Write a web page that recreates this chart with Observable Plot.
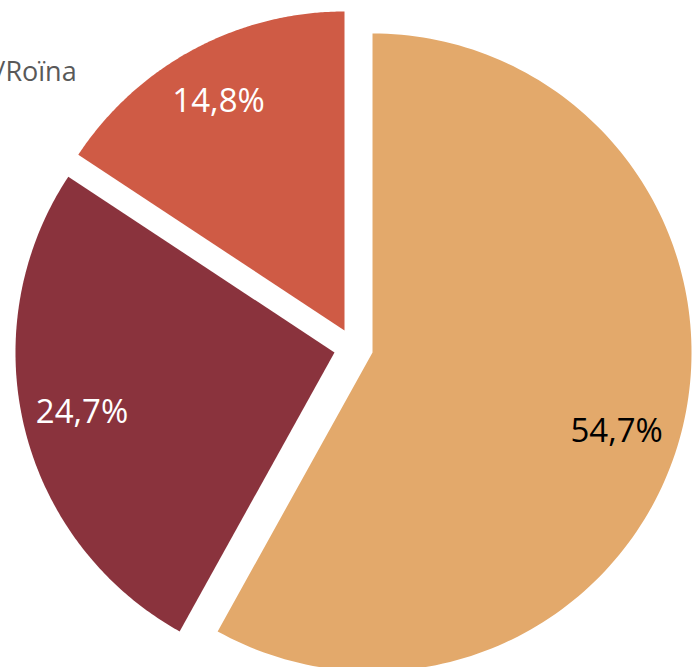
<!DOCTYPE html>
<html><head><meta charset="utf-8">
<script src="https://cdn.jsdelivr.net/npm/d3@7"></script>
<script src="https://cdn.jsdelivr.net/npm/@observablehq/plot@0.6"></script>
<style>
  html,body{margin:0;padding:0;background:#fff;overflow:hidden}
  #chart{position:relative;width:695px;height:667px}
  #chart svg{display:block}
</style>
</head><body><div id="chart"></div>
<script>
// ---- data ----
const categories = ["Catégorie A", "Catégorie B", "Catégorie C"];
const values = [54.7, 24.7, 14.8];
const valueLabels = ["54,7%", "24,7%", "14,8%"];
const legendText = "/Roïna";

// ---- style ----
const colors = ["#E3A96B", "#8A333D", "#CF5B45"];
const labelColors = ["#000000", "#ffffff", "#ffffff"];
// explosion offset of each slice, in radius units (x right, y up)
const explode = [[0.0596, -0.0188], [-0.0596, -0.0188], [-0.0282, 0.0502]];
// label nudges in pixels
const labelNudge = [[-6, 14], [-1.5, -1.5], [-3.5, -1]];

const W = 695, H = 667, R = 319, cx = 353, cy = 346;
const total = d3.sum(values);
let acc = 0;
const slices = values.map((v, i) => {
  const a0 = acc / total * 2 * Math.PI; acc += v;
  const a1 = acc / total * 2 * Math.PI;
  return {key: categories[i], a0, a1, i};
});
const poly = [];
slices.forEach(s => {
  const [ox, oy] = explode[s.i];
  poly.push({key: s.key, x: ox, y: oy});
  const n = 160;
  for (let k = 0; k <= n; k++) {
    const a = s.a0 + (s.a1 - s.a0) * k / n;
    poly.push({key: s.key, x: ox + Math.sin(a), y: oy + Math.cos(a)});
  }
});
const labels = slices.map(s => {
  const [ox, oy] = explode[s.i];
  const m = (s.a0 + s.a1) / 2;
  return {x: ox + 0.81 * Math.sin(m), y: oy + 0.81 * Math.cos(m), text: valueLabels[s.i], color: labelColors[s.i], nudge: labelNudge[s.i]};
});

const chart = Plot.plot({
  width: W, height: H, margin: 0,
  style: {background: "#fff", overflow: "hidden"},
  x: {domain: [-cx / R, (W - cx) / R], axis: null},
  y: {domain: [-(H - cy) / R, cy / R], axis: null},
  color: {domain: categories, range: colors},
  marks: [
    Plot.line(poly, {x: "x", y: "y", z: "key", fill: "key", stroke: null, curve: "linear-closed"}),
    ...labels.map(l => Plot.text([l], {x: "x", y: "y", text: "text", fill: l.color, dx: l.nudge[0], dy: l.nudge[1], fontSize: 33, fontFamily: "Open Sans"})),
    Plot.text([legendText], {frameAnchor: "top-left", text: d => d, textAnchor: "start", lineAnchor: "top", dx: -5, dy: 61, fontSize: 27, fontFamily: "Open Sans", fill: "#595959"})
  ]
});
document.getElementById("chart").appendChild(chart);
</script>
</body></html>
